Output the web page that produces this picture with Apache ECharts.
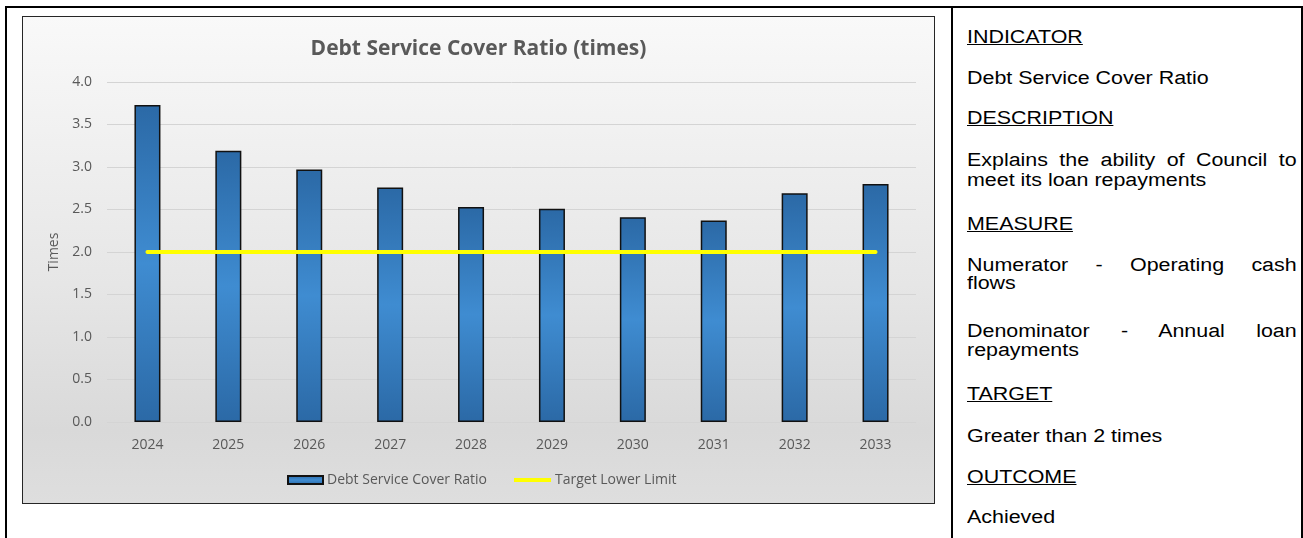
<!DOCTYPE html>
<html>
<head>
<meta charset="utf-8">
<script src="https://cdn.jsdelivr.net/npm/echarts@6/dist/echarts.min.js"></script>
<style>
  html, body { margin: 0; padding: 0; background: #fff; }
  body { width: 1303px; height: 538px; position: relative; overflow: hidden; }
  .frame-top { position: absolute; left: 5px; top: 6px; width: 1298px; height: 2px; background: #000; }
  .frame-left { position: absolute; left: 5px; top: 6px; width: 2px; height: 532px; background: #000; }
  .frame-right { position: absolute; left: 1301px; top: 6px; width: 2px; height: 532px; background: #000; }
  .frame-mid { position: absolute; left: 951px; top: 6px; width: 2px; height: 532px; background: #000; }
  .chart-box {
    position: absolute; left: 22px; top: 16px; width: 911px; height: 486px;
    border: 1px solid #262626;
    background: linear-gradient(to bottom, #f9f9f9 0%, #e6e6e6 55%, #d9d9d9 85%, #dedede 100%);
  }
  #chart { width: 911px; height: 486px; }
  /* 文字在原图里横向被拉宽了，用 scaleX 还原 */
  .info div {
    position: absolute; left: 967px; width: 277px; margin: 0;
    font-family: "Liberation Sans", Arial, sans-serif; font-size: 18px; line-height: 20px;
    color: #000; white-space: nowrap;
    transform: scaleX(1.19); transform-origin: 0 0;
  }
  .info div.h { text-decoration: underline; }
  .info div.j { text-align: justify; text-align-last: justify; }
</style>
</head>
<body>
<div class="frame-top"></div>
<div class="frame-left"></div>
<div class="frame-right"></div>
<div class="frame-mid"></div>

<div class="chart-box"><div id="chart"></div></div>

<div class="info">
  <div class="h" style="top:27px">INDICATOR</div>
  <div style="top:68px">Debt Service Cover Ratio</div>
  <div class="h" style="top:108px">DESCRIPTION</div>
  <div class="j" style="top:150px">Explains the ability of Council to</div>
  <div style="top:170px">meet its loan repayments</div>
  <div class="h" style="top:214px">MEASURE</div>
  <div class="j" style="top:255px">Numerator - Operating cash</div>
  <div style="top:273px">flows</div>
  <div class="j" style="top:321px">Denominator - Annual loan</div>
  <div style="top:340px">repayments</div>
  <div class="h" style="top:384px">TARGET</div>
  <div style="top:426px">Greater than 2 times</div>
  <div class="h" style="top:467px">OUTCOME</div>
  <div style="top:507px">Achieved</div>
</div>

<script>
// 数据
const years = ['2024', '2025', '2026', '2027', '2028', '2029', '2030', '2031', '2032', '2033'];
const dscrValues = [3.73, 3.19, 2.97, 2.76, 2.53, 2.51, 2.41, 2.37, 2.69, 2.80];
const targetValues = [2, 2, 2, 2, 2, 2, 2, 2, 2, 2];
const yTicks = { min: 0, max: 4, interval: 0.5 };

const grey = '#595959';
const font = '"Open Sans", "Noto Sans", sans-serif';

const barFill = new echarts.graphic.LinearGradient(0, 0, 0, 1, [
  { offset: 0, color: '#2b69a6' },
  { offset: 0.5, color: '#3f8cd1' },
  { offset: 1, color: '#2b69a6' }
]);

const mychart = echarts.init(document.getElementById('chart'));
mychart.setOption({
  animation: false,
  backgroundColor: 'transparent',
  title: {
    text: 'Debt Service Cover Ratio (times)',
    left: 'center',
    top: 17,
    textStyle: { color: grey, fontFamily: font, fontSize: 21, fontWeight: 'bold' }
  },
  legend: [
    {
      data: [{ name: 'Debt Service Cover Ratio', icon: 'rect' }],
      left: 259, top: 451,
      itemWidth: 35, itemHeight: 8, itemGap: 0,
      textStyle: { color: grey, fontFamily: font, fontSize: 14, padding: [0, 0, 0, -1] }
    },
    {
      data: [{ name: 'Target Lower Limit', icon: 'rect' }],
      left: 486, top: 451,
      itemWidth: 37, itemHeight: 4,
      textStyle: { color: grey, fontFamily: font, fontSize: 14, padding: [0, 0, 0, -1] }
    }
  ],
  grid: { left: 84, right: 18, top: 65, bottom: 81 },
  xAxis: {
    type: 'category',
    data: years,
    axisLine: { show: false },
    axisTick: { show: false },
    axisLabel: { color: grey, fontFamily: font, fontSize: 14, margin: 16 }
  },
  yAxis: {
    type: 'value',
    min: yTicks.min, max: yTicks.max, interval: yTicks.interval,
    name: 'Times',
    nameLocation: 'middle',
    nameGap: 42,
    nameTextStyle: { color: grey, fontFamily: font, fontSize: 14 },
    axisLabel: { color: grey, fontFamily: font, fontSize: 14, margin: 15,
      formatter: v => v.toFixed(1) },
    splitLine: { lineStyle: { color: '#d4d4d4', width: 1 } }
  },
  series: [
    {
      name: 'Debt Service Cover Ratio',
      type: 'bar',
      data: dscrValues,
      barWidth: 26,
      itemStyle: { color: barFill, borderColor: '#111', borderWidth: 1.5 }
    },
    {
      name: 'Target Lower Limit',
      type: 'line',
      data: targetValues,
      symbol: 'none',
      itemStyle: { color: '#ffff00' },
      lineStyle: { color: '#ffff00', width: 4, cap: 'round' },
      z: 5
    }
  ]
});
</script>
</body>
</html>
